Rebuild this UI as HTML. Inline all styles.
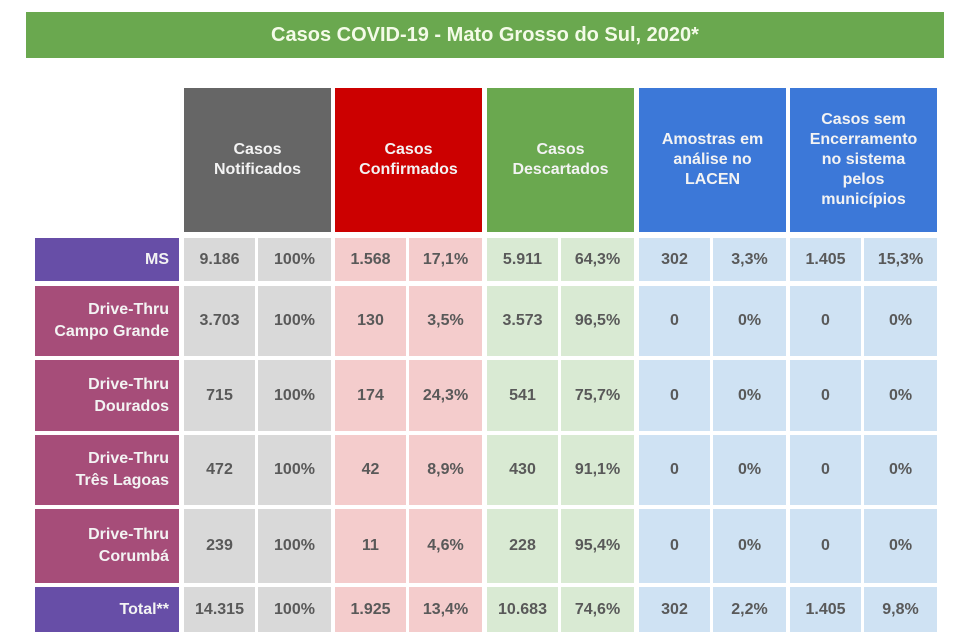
<!DOCTYPE html>
<html><head><meta charset="utf-8">
<style>
body{margin:0;width:960px;height:642px;background:#fff;position:relative;overflow:hidden;font-family:"Liberation Sans",sans-serif;font-weight:bold}
.c{position:absolute;display:flex;align-items:center;justify-content:center;text-align:center;box-sizing:border-box}
#title{left:26px;top:12px;width:918px;height:46px;background:#6aa84f;color:#f4fbe8;font-size:20px}
.h{color:#f3f3f3;font-size:16px;line-height:20px}
.v{color:#595959;font-size:16px}
.l{color:#f3f3f3;font-size:16px;line-height:22px;justify-content:flex-end;text-align:right;padding-right:10px}
</style></head><body>
<div id="title" class="c">Casos COVID-19 - Mato Grosso do Sul, 2020*</div>
<script>
const headers=["Casos<br>Notificados","Casos<br>Confirmados","Casos<br>Descartados","Amostras em<br>análise no<br>LACEN","Casos sem<br>Encerramento<br>no sistema<br>pelos<br>municípios"];
const headerNames=["header-notificados","header-confirmados","header-descartados","header-lacen","header-sem-encerramento"];
const headerColors=["#666666","#cc0000","#6aa84f","#3c78d8","#3c78d8"];
const cellColors=["#d9d9d9","#f4cccc","#d9ead3","#cfe2f3","#cfe2f3"];
const rowLabels=["MS","Drive-Thru<br>Campo Grande","Drive-Thru<br>Dourados","Drive-Thru<br>Três Lagoas","Drive-Thru<br>Corumbá","Total**"];
const rowNames=["row-ms","row-campo-grande","row-dourados","row-tres-lagoas","row-corumba","row-total"];
const rowValues=[
["9.186","100%","1.568","17,1%","5.911","64,3%","302","3,3%","1.405","15,3%"],
["3.703","100%","130","3,5%","3.573","96,5%","0","0%","0","0%"],
["715","100%","174","24,3%","541","75,7%","0","0%","0","0%"],
["472","100%","42","8,9%","430","91,1%","0","0%","0","0%"],
["239","100%","11","4,6%","228","95,4%","0","0%","0","0%"],
["14.315","100%","1.925","13,4%","10.683","74,6%","302","2,2%","1.405","9,8%"]];
const groupX=[184,335,487,639,790];
const rowY=[[238,281],[286,356],[360,431],[435,505],[509,583],[587,632]];
function box(x,y,w,h,bg,cls,html){const d=document.createElement('div');d.className='c '+cls;d.style.left=x+'px';d.style.top=y+'px';d.style.width=w+'px';d.style.height=h+'px';d.style.background=bg;d.innerHTML=html;document.body.appendChild(d);return d;}
headers.forEach((t,i)=>{const d=box(groupX[i],88,147,144,headerColors[i],'h',t);

});
rowLabels.forEach((t,r)=>{const [y0,y1]=rowY[r];
const bg=(r==0||r==5)?'#674ea7':'#a64d79';
const d=box(35,y0,144,y1-y0,bg,'l',t);


rowValues[r].forEach((v,k)=>{const g=Math.floor(k/2),s=k%2;
const x=groupX[g]+(s?74:0);const w=s?73:71;
const c=box(x,y0,w,y1-y0,cellColors[g],'v',v);

});});
</script>
</body></html>
